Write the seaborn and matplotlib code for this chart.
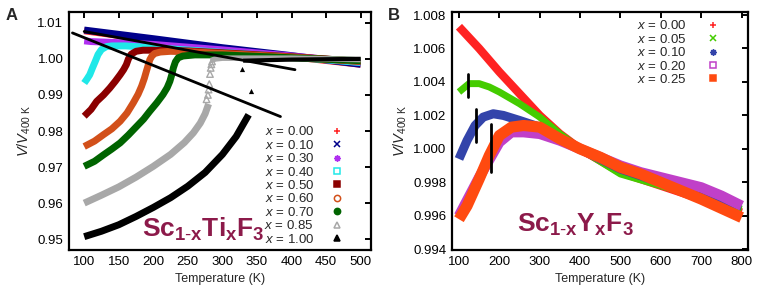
import numpy as np
import pandas as pd
import matplotlib
matplotlib.use("Agg")
import matplotlib.pyplot as plt
from matplotlib.lines import Line2D
import seaborn as sns

sns.set_theme(style="white")
plt.rcParams['font.family'] = ['Liberation Sans', 'DejaVu Sans']
plt.rcParams['mathtext.fontset'] = 'custom'
plt.rcParams['mathtext.rm'] = 'Liberation Sans'
plt.rcParams['mathtext.it'] = 'Liberation Sans:italic'
plt.rcParams['mathtext.bf'] = 'Liberation Sans:bold'

# ---------------- Panel A data: Sc(1-x)Ti(x)F3 ----------------
a_labels = ["0.00", "0.10", "0.30", "0.40", "0.50", "0.60", "0.70", "0.85", "1.00"]
a_colors = ["#ff2020", "#00008b", "#b030f0", "#20e8e8", "#8b0000", "#d2501a", "#006400", "#a8a8a8", "#000000"]
a_markers = ["+", "x", (8, 2, 0), "s", "s", "o", "o", "^", "^"]
a_filled = [True, True, True, False, True, False, True, False, True]

a_T_000 = [100, 200, 300, 400, 500]
a_V_000 = [1.0078, 1.0052, 1.0027, 1.0006, 0.9985]
a_T_010 = [100, 200, 300, 400, 500]
a_V_010 = [1.0080, 1.0056, 1.0031, 1.0009, 0.9985]
a_T_030 = [100, 110, 150, 200, 300, 400, 500]
a_V_030 = [1.0050, 1.0048, 1.0045, 1.0040, 1.0025, 1.0008, 0.9990]
a_T_040 = [100, 104, 108, 112, 116, 120, 125, 132, 140, 160, 200, 300, 400, 500]
a_V_040 = [0.9933, 0.9944, 0.9956, 0.9975, 0.9993, 1.0012, 1.0026, 1.0034, 1.0036, 1.0036, 1.0031, 1.0018, 1.0005, 0.9990]
a_T_050 = [100, 110, 118, 128, 137, 145, 152, 157, 161, 164, 168, 175, 185, 200, 250, 300, 400, 500]
a_V_050 = [0.9841, 0.9860, 0.9882, 0.9900, 0.9919, 0.9938, 0.9956, 0.9970, 0.9984, 1.0000, 1.0013, 1.0021, 1.0024, 1.0024, 1.0022, 1.0017, 1.0006, 0.9993]
a_T_060 = [100, 115, 128, 140, 152, 162, 171, 178, 183, 187, 190, 193, 195, 198, 202, 210, 225, 250, 300, 400, 500]
a_V_060 = [0.9757, 0.9772, 0.9790, 0.9806, 0.9827, 0.9850, 0.9878, 0.9902, 0.9924, 0.9946, 0.9966, 0.9985, 0.9998, 1.0008, 1.0015, 1.0019, 1.0021, 1.0020, 1.0015, 1.0005, 0.9993]
a_T_070 = [100, 115, 128, 140, 152, 164, 176, 186, 195, 205, 214, 220, 224, 227, 229, 232, 236, 243, 260, 300, 400, 500]
a_V_070 = [0.9702, 0.9716, 0.9734, 0.9750, 0.9767, 0.9789, 0.9813, 0.9833, 0.9855, 0.9878, 0.9901, 0.9920, 0.9938, 0.9958, 0.9975, 0.9992, 1.0003, 1.0008, 1.0011, 1.0011, 1.0003, 0.9995]
a_T_085 = [100, 125, 150, 175, 200, 225, 245, 258, 268, 275, 280]
a_V_085 = [0.9600, 0.9622, 0.9645, 0.9672, 0.9702, 0.9735, 0.9768, 0.9795, 0.9822, 0.9848, 0.9875]
a_T_085_high = [283, 290, 300, 400, 500]
a_V_085_high = [0.9995, 1.0000, 1.0002, 1.0002, 0.9998]
a_T_100 = [100, 125, 150, 175, 200, 225, 250, 275, 300, 320, 338]
a_V_100 = [0.9507, 0.9522, 0.9540, 0.9563, 0.9588, 0.9615, 0.9647, 0.9685, 0.9735, 0.9785, 0.9845]
a_T_100_high = [330, 400, 500]
a_V_100_high = [0.9995, 0.9998, 1.0000]

# sparse points near the transitions
a_T_085_pts = [279, 280, 281, 282, 283, 284, 285, 277]
a_V_085_pts = [0.9900, 0.9915, 0.9930, 0.9958, 0.9975, 0.9985, 0.9993, 0.9888]
a_T_100_pts = [328, 341]
a_V_100_pts = [0.9972, 0.9910]

# guide lines (black)
a_line1_T = [83, 384]
a_line1_V = [1.0072, 0.9840]
a_line2_T = [100, 405]
a_line2_V = [1.0076, 0.9970]

a_T = [a_T_000, a_T_010, a_T_030, a_T_040, a_T_050, a_T_060, a_T_070, a_T_085, a_T_100]
a_V = [a_V_000, a_V_010, a_V_030, a_V_040, a_V_050, a_V_060, a_V_070, a_V_085, a_V_100]

# ---------------- Panel B data: Sc(1-x)Y(x)F3 ----------------
b_labels = ["0.00", "0.05", "0.10", "0.20", "0.25"]
b_colors = ["#ff2222", "#44cc00", "#3344aa", "#c040c8", "#ff4a10"]
b_markers = ["+", "x", (8, 2, 0), "s", "s"]
b_filled = [True, True, True, False, True]
b_widths = [6.0, 5.0, 6.5, 7.5, 8.0]

b_T_000 = [100, 150, 200, 250, 300, 350, 400, 500, 600, 700, 800]
b_V_000 = [1.0073, 1.0060, 1.0046, 1.0033, 1.0020, 1.0009, 1.0000, 0.9986, 0.9978, 0.9970, 0.9962]
b_T_005 = [100, 110, 125, 150, 175, 200, 250, 300, 350, 400, 500, 600, 700, 800]
b_V_005 = [1.0034, 1.0036, 1.0039, 1.0039, 1.0037, 1.0034, 1.0027, 1.0019, 1.0009, 1.0000, 0.9985, 0.9978, 0.9971, 0.9964]
b_T_010 = [100, 120, 140, 160, 185, 210, 250, 300, 350, 400, 500, 600, 700, 800]
b_V_010 = [0.9994, 1.0005, 1.0014, 1.0019, 1.0021, 1.0020, 1.0017, 1.0013, 1.0006, 1.0000, 0.9988, 0.9980, 0.9973, 0.9966]
b_T_020 = [100, 150, 200, 230, 260, 300, 350, 400, 450, 500, 550, 600, 650, 700, 750, 800]
b_V_020 = [0.9960, 0.9983, 1.0004, 1.0010, 1.0010, 1.0009, 1.0005, 1.0000, 0.9995, 0.9990, 0.9986, 0.9983, 0.9980, 0.9977, 0.9972, 0.9966]
b_T_025 = [100, 120, 150, 175, 200, 230, 260, 300, 350, 400, 450, 500, 550, 600, 700, 800]
b_V_025 = [0.9958, 0.9966, 0.9982, 0.9996, 1.0008, 1.0013, 1.0014, 1.0013, 1.0006, 1.0000, 0.9995, 0.9989, 0.9985, 0.9980, 0.9970, 0.9959]

b_T = [b_T_000, b_T_005, b_T_010, b_T_020, b_T_025]
b_V = [b_V_000, b_V_005, b_V_010, b_V_020, b_V_025]

# transition marks (vertical bars)
b_bar_T = [123, 141, 179]
b_bar_lo = [1.0031, 1.0004, 0.9986]
b_bar_hi = [1.0045, 1.0024, 1.0015]

TEXT_COLOR = "#8c1a4a"

fig = plt.figure(figsize=(7.57, 2.94), dpi=100)
axA = fig.add_axes([69 / 757, 44 / 294, (371 - 69) / 757, (250 - 12) / 294])
axB = fig.add_axes([451.7 / 757, 44 / 294, (747.7 - 451.7) / 757, (250 - 12) / 294])


def style_axes(ax):
    for s in ax.spines.values():
        s.set_color("black")
        s.set_linewidth(1.6)
    ax.tick_params(direction="in", length=4, width=1.4, top=True, right=True,
                   labelsize=9.5, colors="black", pad=4)
    ax.grid(False)


def band(ax, T, V, color, lw):
    df = pd.DataFrame({"T": T, "V": V})
    sns.lineplot(data=df, x="T", y="V", ax=ax, color=color, linewidth=lw,
                 sort=False, estimator=None, solid_capstyle="butt", solid_joinstyle="round")


# ---- Panel A ----
for i in range(len(a_T)):
    band(axA, a_T[i], a_V[i], a_colors[i], 5)
    if i == 7:
        band(axA, a_T_085_high, a_V_085_high, a_colors[i], 4)
    if i == 8:
        band(axA, a_T_100_high, a_V_100_high, "black", 3)
sns.scatterplot(x=a_T_085_pts, y=a_V_085_pts, ax=axA, marker="^", s=22,
                facecolor="none", edgecolor="#a8a8a8", linewidth=1)
sns.scatterplot(x=a_T_100_pts, y=a_V_100_pts, ax=axA, marker="^", s=14,
                color="black", linewidth=0)
axA.plot(a_line1_T, a_line1_V, color="black", linewidth=2)
axA.plot(a_line2_T, a_line2_V, color="black", linewidth=2)

axA.set_xlim(78, 515)
axA.set_ylim(0.947, 1.013)
axA.set_xticks(np.arange(100, 501, 50))
axA.set_yticks([0.95, 0.96, 0.97, 0.98, 0.99, 1.00, 1.01])
axA.set_yticklabels(["0.95", "0.96", "0.97", "0.98", "0.99", "1.00", "1.01"])
axA.set_xlabel("Temperature (K)", fontsize=9)
axA.set_ylabel(r"$V/V_{\mathrm{400\ K}}$", fontsize=10.5, labelpad=3)
style_axes(axA)

handlesA = []
for i in range(len(a_labels)):
    fc = a_colors[i] if a_filled[i] else "none"
    handlesA.append(Line2D([], [], linestyle="none", marker=a_markers[i], markersize=4.5,
                           markerfacecolor=fc, markeredgecolor=a_colors[i], markeredgewidth=1.1))
axA.legend(handlesA, [r"$x$ = " + l for l in a_labels], loc="lower right",
           bbox_to_anchor=(0.939, -0.02), frameon=False, markerfirst=False,
           fontsize=9.5, labelspacing=0.03, handlelength=1.0, handletextpad=1.22,
           borderpad=0.2)

axA.text(0.243, 0.03, r"$\mathbf{Sc}_{\mathbf{1\text{-}x}}\mathbf{Ti}_{\mathbf{x}}\mathbf{F}_{\mathbf{3}}$",
         transform=axA.transAxes, fontsize=19, color=TEXT_COLOR, ha="left", va="bottom")

fig.text(6 / 757, 1 - 19.5 / 294, "A", fontsize=12, fontweight="bold", ha="left", va="baseline")

# ---- Panel B ----
for i in range(len(b_T)):
    band(axB, b_T[i], b_V[i], b_colors[i], b_widths[i])
for t, lo, hi in zip(b_bar_T, b_bar_lo, b_bar_hi):
    axB.plot([t, t], [lo, hi], color="black", linewidth=2)

axB.set_xlim(82, 815)
axB.set_ylim(0.99396, 1.00818)
axB.set_xticks(np.arange(100, 801, 100))
yt = [0.994, 0.996, 0.998, 1.000, 1.002, 1.004, 1.006, 1.008]
axB.set_yticks(yt)
axB.set_yticklabels([f"{v:.3f}" for v in yt])
axB.set_xlabel("Temperature (K)", fontsize=9)
axB.set_ylabel(r"$V/V_{\mathrm{400\ K}}$", fontsize=10.5, labelpad=3)
style_axes(axB)

handlesB = []
for i in range(len(b_labels)):
    fc = b_colors[i] if b_filled[i] else "none"
    handlesB.append(Line2D([], [], linestyle="none", marker=b_markers[i], markersize=4.5,
                           markerfacecolor=fc, markeredgecolor=b_colors[i], markeredgewidth=1.1))
axB.legend(handlesB, [r"$x$ = " + l for l in b_labels], loc="upper right",
           bbox_to_anchor=(0.94, 1.013), frameon=False, markerfirst=False,
           fontsize=9.5, labelspacing=0.03, handlelength=1.0, handletextpad=1.52,
           borderpad=0.3)

axB.text(0.222, 0.05, r"$\mathbf{Sc}_{\mathbf{1\text{-}x}}\mathbf{Y}_{\mathbf{x}}\mathbf{F}_{\mathbf{3}}$",
         transform=axB.transAxes, fontsize=19, color=TEXT_COLOR, ha="left", va="bottom")

fig.text(388 / 757, 1 - 19.5 / 294, "B", fontsize=12, fontweight="bold", ha="left", va="baseline")

fig.savefig("out.png", dpi=100)
